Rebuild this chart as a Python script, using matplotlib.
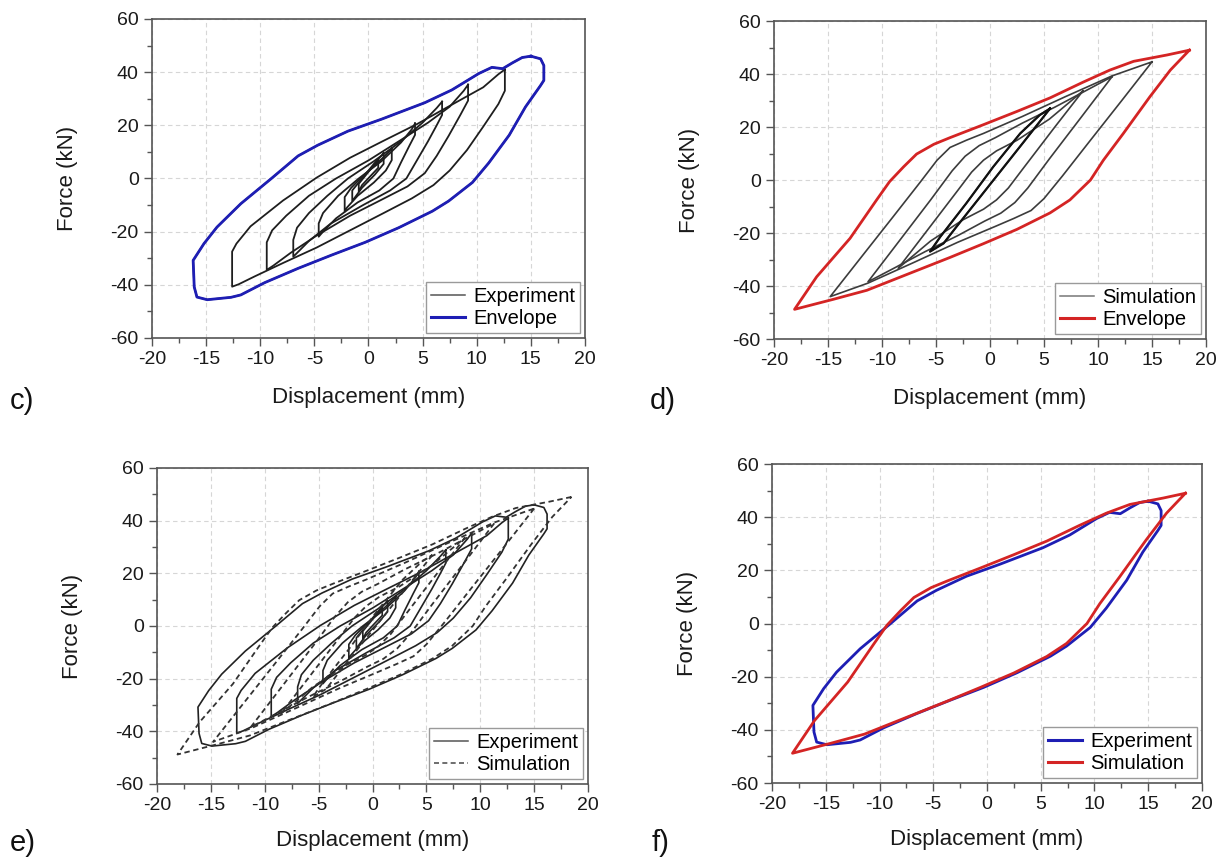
import matplotlib
matplotlib.use("Agg")
import matplotlib.pyplot as plt
from matplotlib.ticker import MultipleLocator
from matplotlib.lines import Line2D

plt.rcParams['font.family'] = ['Liberation Sans', 'DejaVu Sans']
plt.rcParams['axes.unicode_minus'] = False

# ---------------- Experimental hysteresis (displacement mm, force kN) ----------------
# outermost experimental cycle (+/-16 mm), also used as the experimental envelope
exp_outer = [(15.0, 46.0), (15.9, 45.0), (16.2, 42.5), (16.2, 36.9), (15.9, 35.0), (14.5, 26.9),
             (13.0, 16.3), (11.1, 5.8), (9.6, -1.5), (7.4, -8.5), (5.9, -12.3), (2.8, -18.5),
             (-0.3, -24.0), (-3.4, -28.8), (-6.5, -33.8), (-9.6, -39.2), (-11.8, -43.8),
             (-12.7, -44.7), (-14.9, -45.6), (-15.85, -44.6), (-16.1, -40.8), (-16.2, -30.8),
             (-15.2, -24.5), (-14.0, -18.3), (-11.8, -9.5), (-9.0, -0.1), (-6.5, 8.5),
             (-4.7, 12.5), (-1.9, 17.8), (1.2, 22.3), (5.2, 28.5), (7.7, 33.3), (10.2, 39.5),
             (11.4, 41.8), (12.4, 41.3), (13.3, 43.5), (14.2, 45.5), (15.0, 46.0)]

exp_125 = [(12.6, 41.0), (12.6, 33.0), (12.0, 28.0), (10.6, 19.5), (9.1, 10.7), (7.5, 3.0),
           (6.0, -2.5), (4.0, -7.5), (1.4, -13.0), (-1.7, -19.5), (-4.8, -26.0), (-7.9, -31.8),
           (-10.5, -36.8), (-12.0, -39.8), (-12.6, -40.7), (-12.6, -27.5), (-12.2, -24.5),
           (-10.9, -18.0), (-7.9, -8.3), (-4.8, 0.3), (-1.7, 7.8), (1.4, 14.2), (4.5, 20.5),
           (7.5, 27.3), (10.6, 34.3), (12.0, 39.2), (12.6, 41.0)]

exp_95 = [(9.2, 35.3), (9.2, 29.3), (8.5, 24.0), (7.4, 16.0), (6.3, 8.5), (5.2, 2.0),
          (3.6, -3.0), (1.2, -8.0), (-1.7, -14.0), (-4.8, -21.5), (-7.2, -28.0), (-8.8, -32.8),
          (-9.4, -34.4), (-9.4, -24.0), (-8.9, -19.5), (-7.6, -14.0), (-5.5, -6.5),
          (-3.0, 0.0), (0.0, 6.8), (3.0, 14.5), (5.5, 21.0), (7.5, 27.0), (8.8, 33.0),
          (9.2, 35.3)]

exp_70 = [(6.8, 28.9), (6.8, 23.9), (6.3, 20.0), (5.5, 14.0), (4.5, 7.0), (3.5, 0.0),
          (2.0, -4.5), (-0.5, -10.0), (-3.5, -17.0), (-5.5, -23.5), (-6.6, -28.0),
          (-6.95, -29.4), (-6.95, -23.1), (-6.6, -18.5), (-5.5, -13.0), (-3.8, -6.5),
          (-1.9, 0.0), (0.5, 6.5), (3.0, 14.0), (5.0, 21.0), (6.3, 26.5), (6.8, 28.9)]

exp_45 = [(4.3, 20.7), (4.3, 16.4), (3.8, 12.5), (3.0, 6.0), (2.3, 0.0), (1.0, -4.5),
          (-1.0, -9.0), (-3.0, -15.0), (-4.2, -20.0), (-4.6, -21.9), (-4.6, -16.9),
          (-4.2, -13.0), (-2.8, -6.5), (-0.9, 0.0), (1.2, 6.5), (3.0, 13.5), (4.0, 18.5),
          (4.3, 20.7)]

exp_22 = [(2.15, 11.3), (2.15, 6.9), (1.6, 3.0), (0.5, -1.5), (-1.0, -6.5), (-2.0, -11.0),
          (-2.2, -12.5), (-2.2, -7.0), (-1.6, -3.5), (-0.5, 1.0), (1.0, 6.5), (2.0, 10.5),
          (2.15, 11.3)]

exp_15 = [(1.4, 9.5), (1.4, 5.5), (0.6, 1.5), (-0.6, -3.5), (-1.5, -8.5), (-1.5, -4.5),
          (-0.6, 0.0), (0.5, 5.5), (1.4, 9.5)]

exp_08 = [(0.9, 7.0), (0.9, 4.0), (0.2, 1.0), (-0.6, -2.5), (-0.9, -5.0), (-0.9, -2.0),
          (-0.2, 1.5), (0.5, 5.0), (0.9, 7.0)]

exp_cycles = [exp_outer, exp_125, exp_95, exp_70, exp_45, exp_22, exp_15, exp_08]

# ---------------- Simulated hysteresis ----------------
sim_outer = [(18.46, 49.0), (16.4, 47.2), (13.3, 44.8), (11.1, 41.5), (8.6, 36.9), (5.56, 31.0),
             (2.5, 25.9), (-0.6, 20.9), (-3.7, 16.0), (-5.2, 13.5), (-6.8, 9.8), (-8.0, 5.0),
             (-9.3, -0.6), (-10.5, -7.5), (-12.96, -22.0), (-16.05, -36.5), (-18.1, -48.8),
             (-14.5, -45.0), (-11.4, -41.6), (-8.3, -36.6), (-3.7, -29.2), (-0.6, -24.0),
             (2.5, -18.6), (5.56, -12.4), (7.4, -7.5), (9.3, 0.0), (10.5, 7.5), (12.35, 17.6),
             (14.8, 31.4), (16.7, 41.5), (18.46, 49.0)]

sim_150 = [(15.0, 44.6), (12.2, 30.0), (9.2, 14.5), (6.7, 1.5), (5.0, -7.0), (3.8, -11.5),
           (2.2, -14.5), (0.6, -17.3), (-3.0, -23.5), (-7.0, -31.0), (-11.3, -38.9),
           (-14.8, -44.0), (-12.0, -29.5), (-9.0, -14.0), (-6.5, -1.0), (-4.9, 7.5),
           (-3.7, 12.3), (-2.2, 15.0), (-0.6, 17.6), (3.0, 24.0), (7.0, 31.5), (11.3, 39.3),
           (15.0, 44.6)]

sim_110 = [(11.3, 39.0), (8.5, 24.0), (5.5, 8.0), (3.5, -3.0), (2.3, -8.5), (1.0, -12.5),
           (-0.5, -15.5), (-3.0, -21.0), (-6.0, -27.0), (-9.0, -33.5), (-11.3, -38.4),
           (-8.5, -23.5), (-5.5, -7.5), (-3.5, 3.5), (-2.3, 9.0), (-1.0, 13.0), (0.5, 16.0),
           (3.0, 21.5), (6.0, 27.5), (9.0, 34.0), (11.3, 39.0)]

sim_85 = [(8.6, 33.6), (6.0, 20.0), (3.0, 4.0), (1.7, -3.0), (0.6, -7.5), (-0.6, -11.0),
          (-2.5, -15.0), (-5.5, -23.0), (-8.5, -33.3), (-6.0, -20.0), (-3.0, -4.0),
          (-1.7, 3.0), (-0.6, 7.5), (0.6, 11.0), (2.5, 15.0), (5.5, 23.0), (8.6, 33.6)]

sim_55 = [(5.56, 27.0), (4.0, 18.9), (1.55, 6.3), (-0.9, -6.3), (-3.1, -17.6), (-4.3, -23.9),
          (-5.55, -27.0), (-4.6, -21.4), (-2.2, -8.8), (0.3, 5.0), (2.8, 17.6), (4.6, 24.5),
          (5.56, 27.0)]

sim_cycles = [sim_outer, sim_150, sim_110, sim_85, sim_55]

# ---------------- Figure ----------------
BLUE = '#1e1eb4'
RED = '#d42424'

fig = plt.figure(figsize=(12.22, 8.66), dpi=100)
ax_c = fig.add_axes([0.1244, 0.6097, 0.3543, 0.3684])
ax_d = fig.add_axes([0.6334, 0.6085, 0.3535, 0.3672])
ax_e = fig.add_axes([0.1285, 0.0947, 0.3527, 0.3649])
ax_f = fig.add_axes([0.6318, 0.0958, 0.3518, 0.3684])


def xy(points):
    return [p[0] for p in points], [p[1] for p in points]


def style(ax, xlab_y):
    ax.set_xlim(-20, 20)
    ax.set_ylim(-60, 60)
    ax.xaxis.set_major_locator(MultipleLocator(5))
    ax.xaxis.set_minor_locator(MultipleLocator(2.5))
    ax.yaxis.set_major_locator(MultipleLocator(20))
    ax.yaxis.set_minor_locator(MultipleLocator(10))
    ax.tick_params(which='both', direction='out', top=False, right=False,
                   color='#555555', labelsize=14, labelcolor='#1a1a1a', width=1.0)
    ax.tick_params(which='major', length=6)
    ax.tick_params(which='minor', length=3.5)
    ax.grid(True, which='major', color='#d6d6d6', ls=(0, (4, 3)), lw=0.8)
    ax.set_axisbelow(True)
    for s in ax.spines.values():
        s.set_color('#555555')
        s.set_linewidth(1.2)
    ax.set_xlabel('Displacement (mm)', fontsize=16, color='#1a1a1a')
    ax.set_ylabel('Force (kN)', fontsize=16, color='#1a1a1a')
    ax.xaxis.set_label_coords(0.5, xlab_y)
    ax.yaxis.set_label_coords(-0.172, 0.5)


def add_legend(ax, handles, labels):
    ax.legend(handles, labels, loc='lower right', fontsize=14.5, frameon=True,
              fancybox=False, edgecolor='#9a9a9a', framealpha=1.0, borderaxespad=0.25,
              handlelength=1.7, borderpad=0.25, labelspacing=0.15, handletextpad=0.4)


# c) experimental cycles with envelope
for cyc in exp_cycles:
    ax_c.plot(*xy(cyc), color='#1e1e1e', lw=1.3)
ax_c.plot(*xy(exp_outer), color=BLUE, lw=2.0)
style(ax_c, -0.155)
add_legend(ax_c, [Line2D([], [], color='#555555', lw=1.1), Line2D([], [], color=BLUE, lw=2.2)],
           ['Experiment', 'Envelope'])

# d) simulated cycles with envelope
for cyc in sim_cycles[1:]:
    ax_d.plot(*xy(cyc), color='#3c3c3c', lw=1.2)
ax_d.plot(*xy(sim_55), color='#111111', lw=1.6)
ax_d.plot(*xy(sim_outer), color=RED, lw=2.0)
style(ax_d, -0.155)
add_legend(ax_d, [Line2D([], [], color='#777777', lw=1.1), Line2D([], [], color=RED, lw=2.2)],
           ['Simulation', 'Envelope'])

# e) experiment vs simulation, all cycles
for cyc in exp_cycles:
    ax_e.plot(*xy(cyc), color='#222222', lw=1.2)
for cyc in sim_cycles:
    ax_e.plot(*xy(cyc), color='#333333', lw=1.3, ls=(0, (3, 2)))
style(ax_e, -0.145)
add_legend(ax_e, [Line2D([], [], color='#555555', lw=1.1),
                  Line2D([], [], color='#555555', lw=1.2, ls=(0, (3, 2)))],
           ['Experiment', 'Simulation'])

# f) experimental vs simulated envelopes
ax_f.plot(*xy(exp_outer), color=BLUE, lw=2.0)
ax_f.plot(*xy(sim_outer), color=RED, lw=2.0)
style(ax_f, -0.145)
add_legend(ax_f, [Line2D([], [], color=BLUE, lw=2.2), Line2D([], [], color=RED, lw=2.2)],
           ['Experiment', 'Simulation'])

# panel letters
for txt, x, y in [('c)', 0.008, 0.537), ('d)', 0.532, 0.537), ('e)', 0.008, 0.026), ('f)', 0.533, 0.026)]:
    fig.text(x, y, txt, fontsize=21, va='center', ha='left', color='#111111')

fig.savefig('out.png', dpi=100)
